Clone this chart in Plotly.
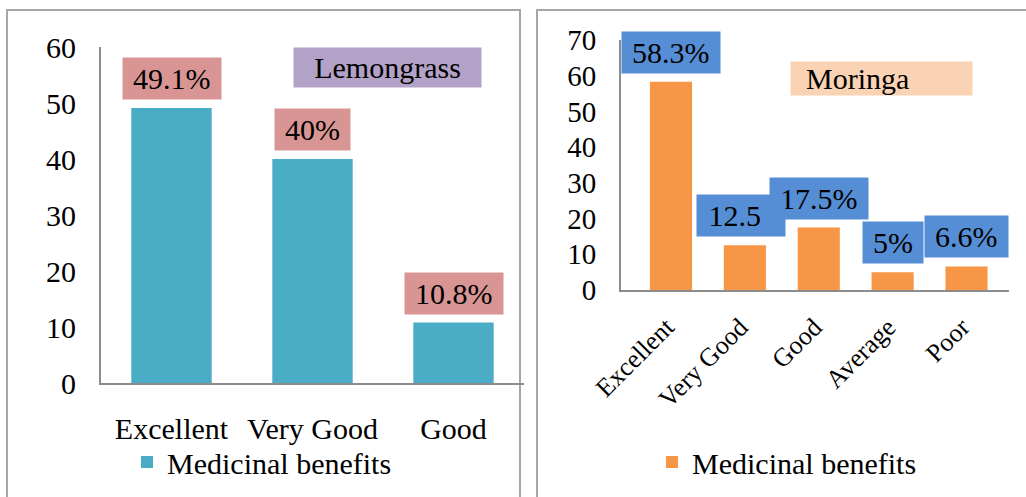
import plotly.graph_objects as go

# ---------------- data ----------------
lemon_categories = ["Excellent", "Very Good", "Good"]
lemon_values = [49.1, 40, 10.8]
lemon_labels = ["49.1%", "40%", "10.8%"]

moringa_categories = ["Excellent", "Very Good", "Good", "Average", "Poor"]
moringa_values = [58.3, 12.5, 17.5, 5, 6.6]
moringa_labels = ["58.3%", "12.5", "17.5%", "5%", "6.6%"]

series_name = "Medicinal benefits"
lemon_title = "Lemongrass"
moringa_title = "Moringa"

lemon_ticks = [0, 10, 20, 30, 40, 50, 60]
moringa_ticks = [0, 10, 20, 30, 40, 50, 60, 70]

# ---------------- styling ----------------
W, H = 1026, 497
FONT = "Liberation Serif, Times New Roman, serif"
AQUA = "#4BACC6"
ORANGE = "#F79646"
PINK = "#D99594"
BLUE = "#558ED5"
PURPLE = "#B3A2C7"
PEACH = "#FAD3B5"
AXIS = "#8C8C8C"
FRAME = "#A6A6A6"
FS = 30
THIN = "\u2009"
NBSP = "\u00a0"


def px_x(p):
    return p / W


def px_y(p):
    return (H - p) / H


fig = go.Figure()

fig.add_trace(go.Bar(
    x=lemon_categories, y=lemon_values, name=series_name,
    marker=dict(color=AQUA, line=dict(width=0)),
    xaxis="x", yaxis="y", legend="legend", showlegend=True,
))
fig.add_trace(go.Bar(
    x=moringa_categories, y=moringa_values, name=series_name,
    marker=dict(color=ORANGE, line=dict(width=0)),
    xaxis="x2", yaxis="y2", legend="legend2", showlegend=True,
))

annotations = []
for c, v, t in zip(lemon_categories, lemon_values, lemon_labels):
    annotations.append(dict(
        x=c, y=v, xref="x", yref="y", text=THIN + t + THIN, showarrow=False,
        yanchor="bottom", yshift=8, bgcolor=PINK, borderpad=4,
        font=dict(family=FONT, size=FS, color="black"),
    ))
order = [0, 2, 3, 4, 1]
for i in order:
    c, v, t = moringa_categories[i], moringa_values[i], moringa_labels[i]
    a = dict(
        x=c, y=v, xref="x2", yref="y2", text=THIN + t + THIN, showarrow=False,
        yanchor="bottom", yshift=8, bgcolor=BLUE, borderpad=4,
        font=dict(family=FONT, size=FS, color="black"),
    )
    if t == "12.5":
        a.update(text=NBSP + t, width=80, align="left", xshift=-4)
    annotations.append(a)

annotations.append(dict(
    x=px_x(387.5), y=px_y(67.5), xref="paper", yref="paper",
    xanchor="center", yanchor="middle", text=lemon_title, showarrow=False,
    bgcolor=PURPLE, borderpad=3, width=181,
    font=dict(family=FONT, size=FS, color="black"),
))
annotations.append(dict(
    x=px_x(881.5), y=px_y(78), xref="paper", yref="paper",
    xanchor="center", yanchor="middle", text=NBSP + NBSP + moringa_title,
    showarrow=False, align="left",
    bgcolor=PEACH, borderpad=0, width=181,
    font=dict(family=FONT, size=FS, color="black"),
))

shapes = [
    dict(type="rect", xref="paper", yref="paper",
         x0=px_x(7), x1=px_x(520), y0=px_y(520), y1=px_y(10),
         line=dict(color=FRAME, width=2), layer="below"),
    dict(type="rect", xref="paper", yref="paper",
         x0=px_x(537), x1=px_x(1040), y0=px_y(520), y1=px_y(10),
         line=dict(color=FRAME, width=2), layer="below"),
]

fig.update_layout(
    width=W, height=H,
    margin=dict(l=0, r=0, t=0, b=0, pad=0, autoexpand=False),
    paper_bgcolor="white", plot_bgcolor="white",
    bargap=0.43,
    showlegend=True,
    font=dict(family=FONT, color="black"),
    annotations=annotations,
    shapes=shapes,
    xaxis=dict(
        domain=[px_x(101), px_x(524)], anchor="y", automargin=False,
        showline=True, linecolor=AXIS, linewidth=2,
        showgrid=False, ticks="", tickfont=dict(family=FONT, size=FS, color="black"),
        ticklabelstandoff=18,
    ),
    yaxis=dict(
        domain=[px_y(383), px_y(47)], anchor="x", range=[0, 60], automargin=False,
        tickvals=lemon_ticks,
        showline=True, linecolor=AXIS, linewidth=2,
        showgrid=False, zeroline=False, ticks="",
        tickfont=dict(family=FONT, size=FS, color="black"),
        ticklabelstandoff=17,
    ),
    xaxis2=dict(
        domain=[px_x(621), px_x(1009)], anchor="y2", automargin=False,
        showline=True, linecolor=AXIS, linewidth=2,
        showgrid=False, ticks="", tickangle=-45,
        tickvals=moringa_categories,
        ticktext=[c + NBSP for c in moringa_categories],
        tickfont=dict(family=FONT, size=26, color="black"),
        ticklabelstandoff=5,
    ),
    yaxis2=dict(
        domain=[px_y(290), px_y(40)], anchor="x2", range=[0, 70], automargin=False,
        tickvals=moringa_ticks,
        showline=True, linecolor=AXIS, linewidth=2,
        showgrid=False, zeroline=False, ticks="",
        tickfont=dict(family=FONT, size=29, color="black"),
        ticklabelstandoff=17,
    ),
    legend=dict(
        x=px_x(127), y=px_y(462), xanchor="left", yanchor="middle",
        bgcolor="rgba(0,0,0,0)", font=dict(family=FONT, size=FS, color="black"),
    ),
    legend2=dict(
        x=px_x(652), y=px_y(462), xanchor="left", yanchor="middle",
        bgcolor="rgba(0,0,0,0)", font=dict(family=FONT, size=FS, color="black"),
    ),
)

fig.write_html("out.html")
